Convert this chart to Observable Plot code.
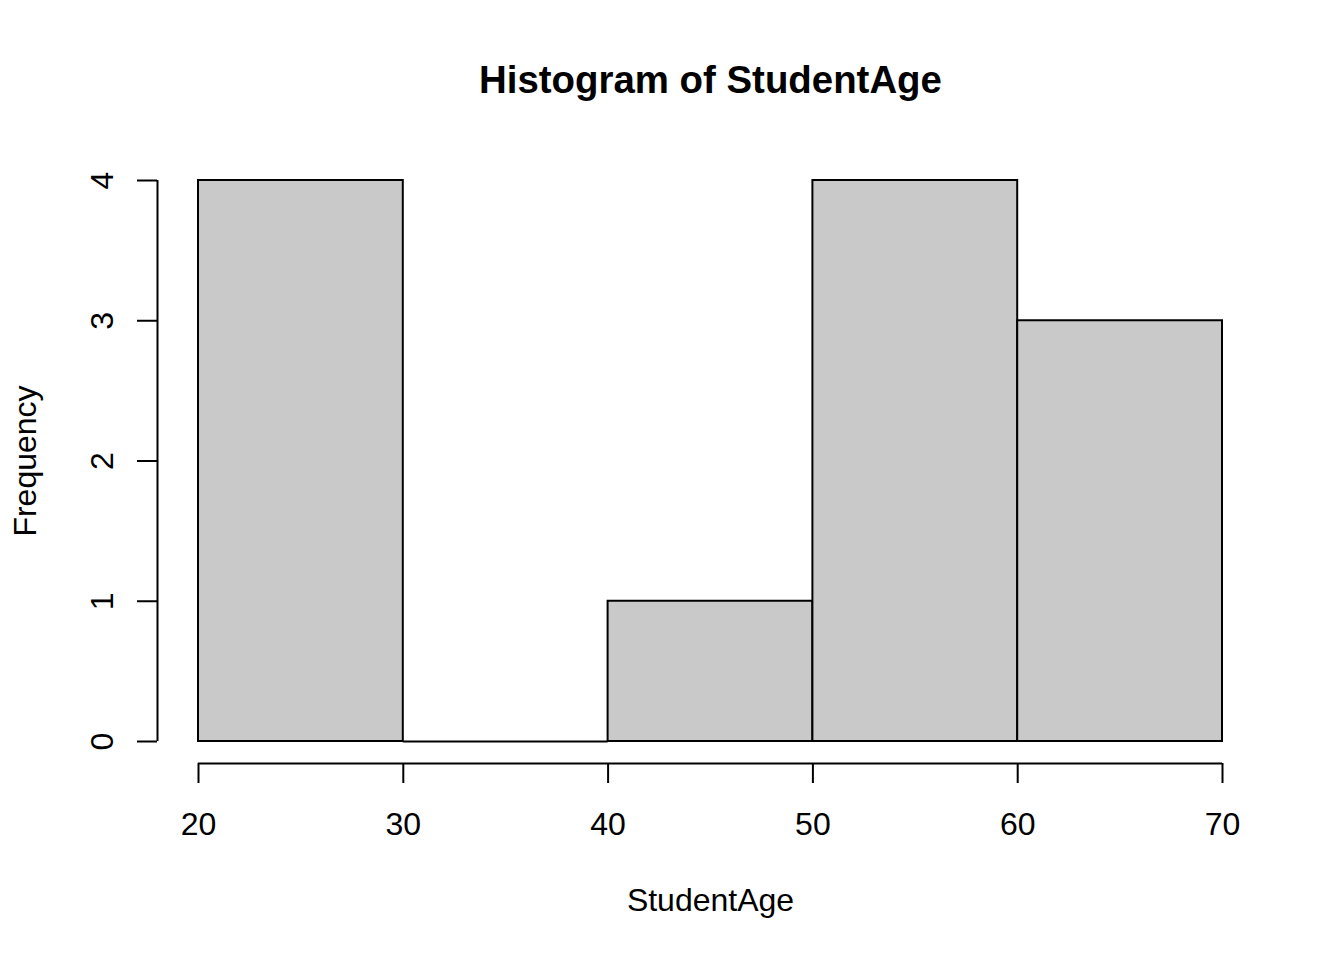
<!DOCTYPE html>
<html>
<head>
<meta charset="utf-8">
<script src="https://cdn.jsdelivr.net/npm/d3@7"></script>
<script src="https://cdn.jsdelivr.net/npm/@observablehq/plot@0.6"></script>
<style>
  html, body { margin: 0; padding: 0; background: #ffffff; }
  #chart svg { display: block; }
</style>
</head>
<body>
<div id="chart"></div>
<script>
const binStarts = [20, 30, 40, 50, 60];
const binEnds = [30, 40, 50, 60, 70];
const counts = [4, 0, 1, 4, 3];
const xTicks = [20, 30, 40, 50, 60, 70];
const yTicks = [0, 1, 2, 3, 4];
const titleText = "Histogram of StudentAge";
const xLabel = "StudentAge";
const yLabel = "Frequency";

const bins = binStarts.map((s, i) => ({lo: s, hi: binEnds[i], count: counts[i]}));
const font = "'Liberation Sans', Arial, Helvetica, sans-serif";

const chart = Plot.plot({
  width: 1344,
  height: 960,
  marginLeft: 198,
  marginRight: 122,
  marginTop: 180,
  marginBottom: 219,
  x: {domain: [xTicks[0], xTicks[xTicks.length - 1]], axis: null},
  y: {domain: [yTicks[0], yTicks[yTicks.length - 1]], axis: null},
  style: {fontFamily: font, background: "#ffffff", color: "#000000"},
  marks: [
    Plot.rect(bins.filter(d => d.count > 0), {
      x1: "lo", x2: "hi", y1: () => 0, y2: "count",
      fill: "#c9c9c9", stroke: "#000000", strokeWidth: 2
    }),
    Plot.ruleY(bins.filter(d => d.count === 0), {
      x1: "lo", x2: "hi", y: "count", stroke: "#000000", strokeWidth: 2
    }),
    // x axis
    Plot.ruleY([yTicks[0]], {
      x1: () => xTicks[0], x2: () => xTicks[xTicks.length - 1],
      dy: 22, stroke: "#000000", strokeWidth: 2
    }),
    Plot.axisX(xTicks, {
      tickSize: 20, dy: 22, tickPadding: 29, fontSize: 32,
      strokeWidth: 2, color: "#000000"
    }),
    // y axis
    Plot.ruleX([xTicks[0]], {
      y1: () => yTicks[0], y2: () => yTicks[yTicks.length - 1],
      dx: -41, stroke: "#000000", strokeWidth: 2
    }),
    Plot.axisY(yTicks, {
      tickSize: 20, dx: -41, fill: "none", stroke: "#000000", strokeWidth: 2
    }),
    Plot.text(yTicks, {
      y: d => d, text: d => String(d), frameAnchor: "left",
      dx: -86, rotate: -90, textAnchor: "middle", lineAnchor: "bottom",
      fontSize: 32, fill: "#000000"
    }),
    // titles
    Plot.text([titleText], {
      frameAnchor: "top", dy: -100, lineAnchor: "middle",
      fontSize: 38.4, fontWeight: "bold", fill: "#000000"
    }),
    Plot.text([xLabel], {
      frameAnchor: "bottom", dy: 159, lineAnchor: "middle",
      fontSize: 32, fill: "#000000"
    }),
    Plot.text([yLabel], {
      frameAnchor: "left", dx: -173, rotate: -90, textAnchor: "middle", lineAnchor: "middle",
      fontSize: 32, fill: "#000000"
    })
  ]
});
document.getElementById("chart").appendChild(chart);
</script>
</body>
</html>
